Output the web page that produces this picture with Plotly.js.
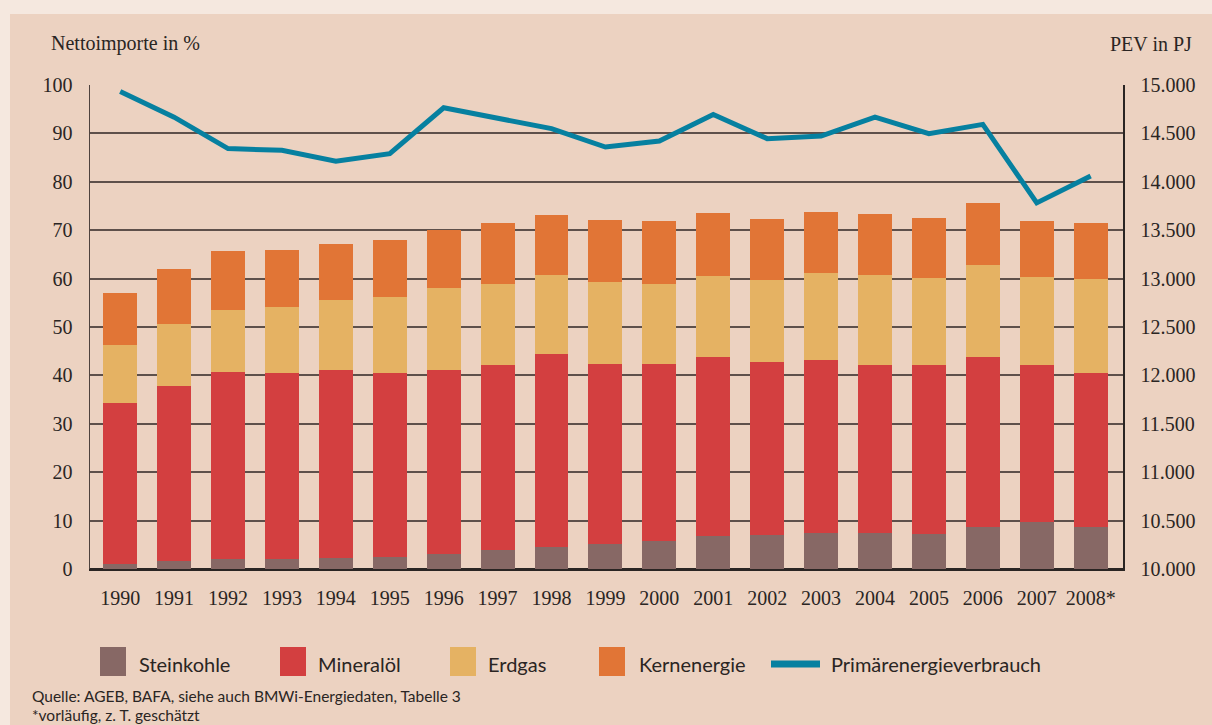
<!DOCTYPE html>
<html>
<head>
<meta charset="utf-8">
<script src="https://cdn.plot.ly/plotly-3.0.1.min.js"></script>
<style>
html,body{margin:0;padding:0;background:#f5e8df;}
#chart{width:1212px;height:725px;}
</style>
</head>
<body>
<div id="chart"></div>
<script>
// ---- data ----
const years = ['1990','1991','1992','1993','1994','1995','1996','1997','1998','1999','2000','2001','2002','2003','2004','2005','2006','2007','2008*'];
const steinkohle = [1.0,1.7,2.1,2.1,2.3,2.5,3.1,3.9,4.5,5.1,5.8,6.8,7.1,7.5,7.5,7.2,8.7,9.7,8.7];
const mineraloel = [33.4,36.2,38.7,38.3,38.9,38.1,38.1,38.2,40.0,37.2,36.5,37.1,35.6,35.6,34.6,34.9,35.2,32.4,31.7];
const erdgas     = [11.8,12.8,12.8,13.8,14.3,15.5,16.9,16.7,16.3,16.9,16.5,16.7,17.1,18.1,18.7,18.1,19.0,18.3,19.6];
const kernenergie= [10.9,11.2,12.2,11.8,11.7,11.9,12.0,12.7,12.4,13.0,13.0,13.0,12.6,12.6,12.6,12.4,12.8,11.4,11.5];
const pev        = [14933,14668,14343,14325,14212,14291,14765,14658,14549,14359,14421,14696,14446,14473,14668,14497,14593,13782,14060];
const seriesNames = ['Steinkohle','Mineralöl','Erdgas','Kernenergie','Primärenergieverbrauch'];
const leftTicks = [0,10,20,30,40,50,60,70,80,90,100];
const rightTicks = [10000,10500,11000,11500,12000,12500,13000,13500,14000,14500,15000];

const colors = ['#876865','#d33f40','#e5b263','#e17536','#0680a0'];
const serif = 'Liberation Serif, DejaVu Serif, serif';
const sans = 'Lato, Open Sans, sans-serif';
const ink = '#2a2523';

// plot area in pixels (for paper-coordinate helpers)
const PL = 90, PW = 1033, PB = 569, PH = 484;
const px = v => (v - PL) / PW;
const py = v => (PB - v) / PH;

const barSeries = [steinkohle, mineraloel, erdgas, kernenergie];
const traces = barSeries.map((vals, i) => ({
  type: 'bar', x: years, y: vals, name: seriesNames[i],
  marker: {color: colors[i], line: {width: 0}},
  width: 0.63
}));
traces.push({
  type: 'scatter', mode: 'lines', x: years, y: pev, yaxis: 'y2',
  name: seriesNames[4], line: {color: colors[4], width: 5}
});

// custom legend (large swatches like the reference)
const legendSwatchX = [100, 280, 450, 599];
const legendTextX = [137, 316, 486, 637, 829];
const shapes = [{
  type: 'rect', xref: 'paper', yref: 'paper', layer: 'below',
  x0: px(10), x1: px(1212), y0: py(740), y1: py(14),
  fillcolor: '#ecd2c1', line: {width: 0}
}];
const annotations = [];
legendSwatchX.forEach((x0, i) => {
  shapes.push({type: 'rect', xref: 'paper', yref: 'paper',
    x0: px(x0), x1: px(x0 + 26), y0: py(676), y1: py(647),
    fillcolor: colors[i], line: {width: 0}});
});
shapes.push({type: 'line', xref: 'paper', yref: 'paper',
  x0: px(771), x1: px(820), y0: py(664), y1: py(664),
  line: {color: colors[4], width: 7}});
seriesNames.forEach((n, i) => {
  annotations.push({text: n, xref: 'paper', yref: 'paper', x: px(legendTextX[i]), xanchor: 'left',
    y: py(664), yanchor: 'middle', showarrow: false,
    font: {family: sans, size: 20, color: ink}});
});
annotations.push(
  {text: 'Nettoimporte in %', xref: 'paper', yref: 'paper', x: px(49), xanchor: 'left',
   y: py(44), yanchor: 'middle', showarrow: false, font: {family: serif, size: 20, color: ink}},
  {text: 'PEV in PJ', xref: 'paper', yref: 'paper', x: px(1194), xanchor: 'right',
   y: py(44), yanchor: 'middle', showarrow: false, font: {family: serif, size: 20, color: ink}},
  {text: 'Quelle: AGEB, BAFA, siehe auch BMWi-Energiedaten, Tabelle 3', xref: 'paper', yref: 'paper',
   x: px(30), xanchor: 'left', y: py(696), yanchor: 'middle', showarrow: false,
   font: {family: sans, size: 15.5, color: ink}},
  {text: '*vorläufig, z. T. geschätzt', xref: 'paper', yref: 'paper',
   x: px(30), xanchor: 'left', y: py(715), yanchor: 'middle', showarrow: false,
   font: {family: sans, size: 15.5, color: ink}}
);

const layout = {
  width: 1212, height: 725,
  margin: {l: 90, r: 89, t: 85, b: 156},
  paper_bgcolor: '#f5e8df',
  plot_bgcolor: 'rgba(0,0,0,0)',
  separators: ',.',
  barmode: 'stack',
  showlegend: false,
  font: {family: serif, color: ink, size: 20},
  shapes: shapes,
  annotations: annotations,
  xaxis: {
    type: 'category', range: [-0.56, 18.6], fixedrange: true,
    showgrid: false, showline: true, linecolor: ink, linewidth: 2,
    ticks: '', ticklabelstandoff: 10,
    tickfont: {family: serif, size: 20, color: ink}
  },
  yaxis: {
    range: [0, 100], tickvals: leftTicks, showgrid: true,
    gridcolor: '#5e504b', gridwidth: 2, zeroline: true, zerolinecolor: ink, zerolinewidth: 2,
    showline: true, linecolor: '#4e423e', linewidth: 1.5,
    ticks: '', ticklabelstandoff: 12,
    tickfont: {family: serif, size: 20, color: ink}
  },
  yaxis2: {
    overlaying: 'y', side: 'right', range: [10000, 15000], tickvals: rightTicks,
    tickformat: ',d', showgrid: false, zeroline: false,
    showline: true, linecolor: ink, linewidth: 1.5,
    ticks: '', ticklabelstandoff: 12,
    tickfont: {family: serif, size: 20, color: ink}
  }
};

Plotly.newPlot('chart', traces, layout, {displayModeBar: false, staticPlot: true});
</script>
</body>
</html>
